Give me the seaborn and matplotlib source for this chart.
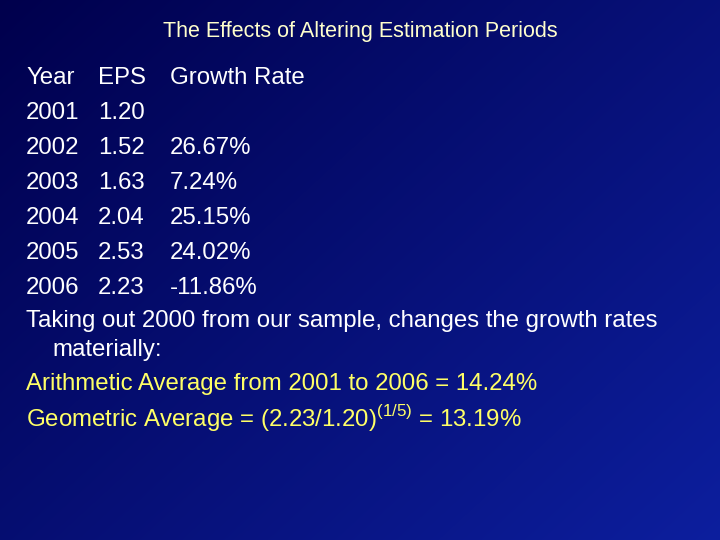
import numpy as np
import matplotlib
matplotlib.use("Agg")
import matplotlib.pyplot as plt
import seaborn as sns

title = "The Effects of Altering Estimation Periods"
headers = ["Year", "EPS", "Growth Rate"]
years = ["2001", "2002", "2003", "2004", "2005", "2006"]
eps = ["1.20", "1.52", "1.63", "2.04", "2.53", "2.23"]
growth = ["", "26.67%", "7.24%", "25.15%", "24.02%", "-11.86%"]
note1 = "Taking out 2000 from our sample, changes the growth rates"
note2 = "materially:"
arith = "Arithmetic Average from 2001 to 2006 = 14.24%"
geom = r"Geometric Average = (2.23/1.20)$^{\mathregular{(1/5)}}$ = 13.19%"

sns.set_theme(style="white")
plt.rcParams['font.family'] = ['Liberation Sans', 'DejaVu Sans']

fig = plt.figure(figsize=(7.2, 5.4), dpi=100)
ax = fig.add_axes([0, 0, 1, 1])
ax.set_xlim(0, 720); ax.set_ylim(540, 0); ax.axis("off")

# background gradient
yy, xx = np.mgrid[0:540, 0:720]
t = np.clip(0.55 * xx / 720 + 0.45 * yy / 540, 0, 1)
c0 = np.array([0.0, 0.0, 0.30]); c1 = np.array([0.05, 0.12, 0.62])
img = c0 + (c1 - c0) * t[..., None]
ax.imshow(img, extent=[0, 720, 540, 0], aspect="auto", zorder=0)

white = "white"; yellow = "#FFFF66"
ax.text(360, 31, title, color="#FFFFCC", fontsize=15.5, ha="center", va="center")

cols = [26, 98, 170]
fs = 17.3
row_y = [78, 113, 148, 183, 218, 253, 288]
for x, h in zip(cols, headers):
    ax.text(x, row_y[0], h, color=white, fontsize=fs, va="center")
for i, (yr, e, g) in enumerate(zip(years, eps, growth)):
    y = row_y[i + 1]
    ax.text(cols[0], y, yr, color=white, fontsize=fs, va="center")
    ax.text(cols[1], y, e, color=white, fontsize=fs, va="center")
    ax.text(cols[2], y, g, color=white, fontsize=fs, va="center")
ax.text(26, 321, note1, color=white, fontsize=fs, va="center")
ax.text(52, 350, note2, color=white, fontsize=fs, va="center")
ax.text(26, 384, arith, color=yellow, fontsize=fs, va="center")
ax.text(26, 419, geom, color=yellow, fontsize=fs, va="center")

fig.savefig("out.png", dpi=100)
